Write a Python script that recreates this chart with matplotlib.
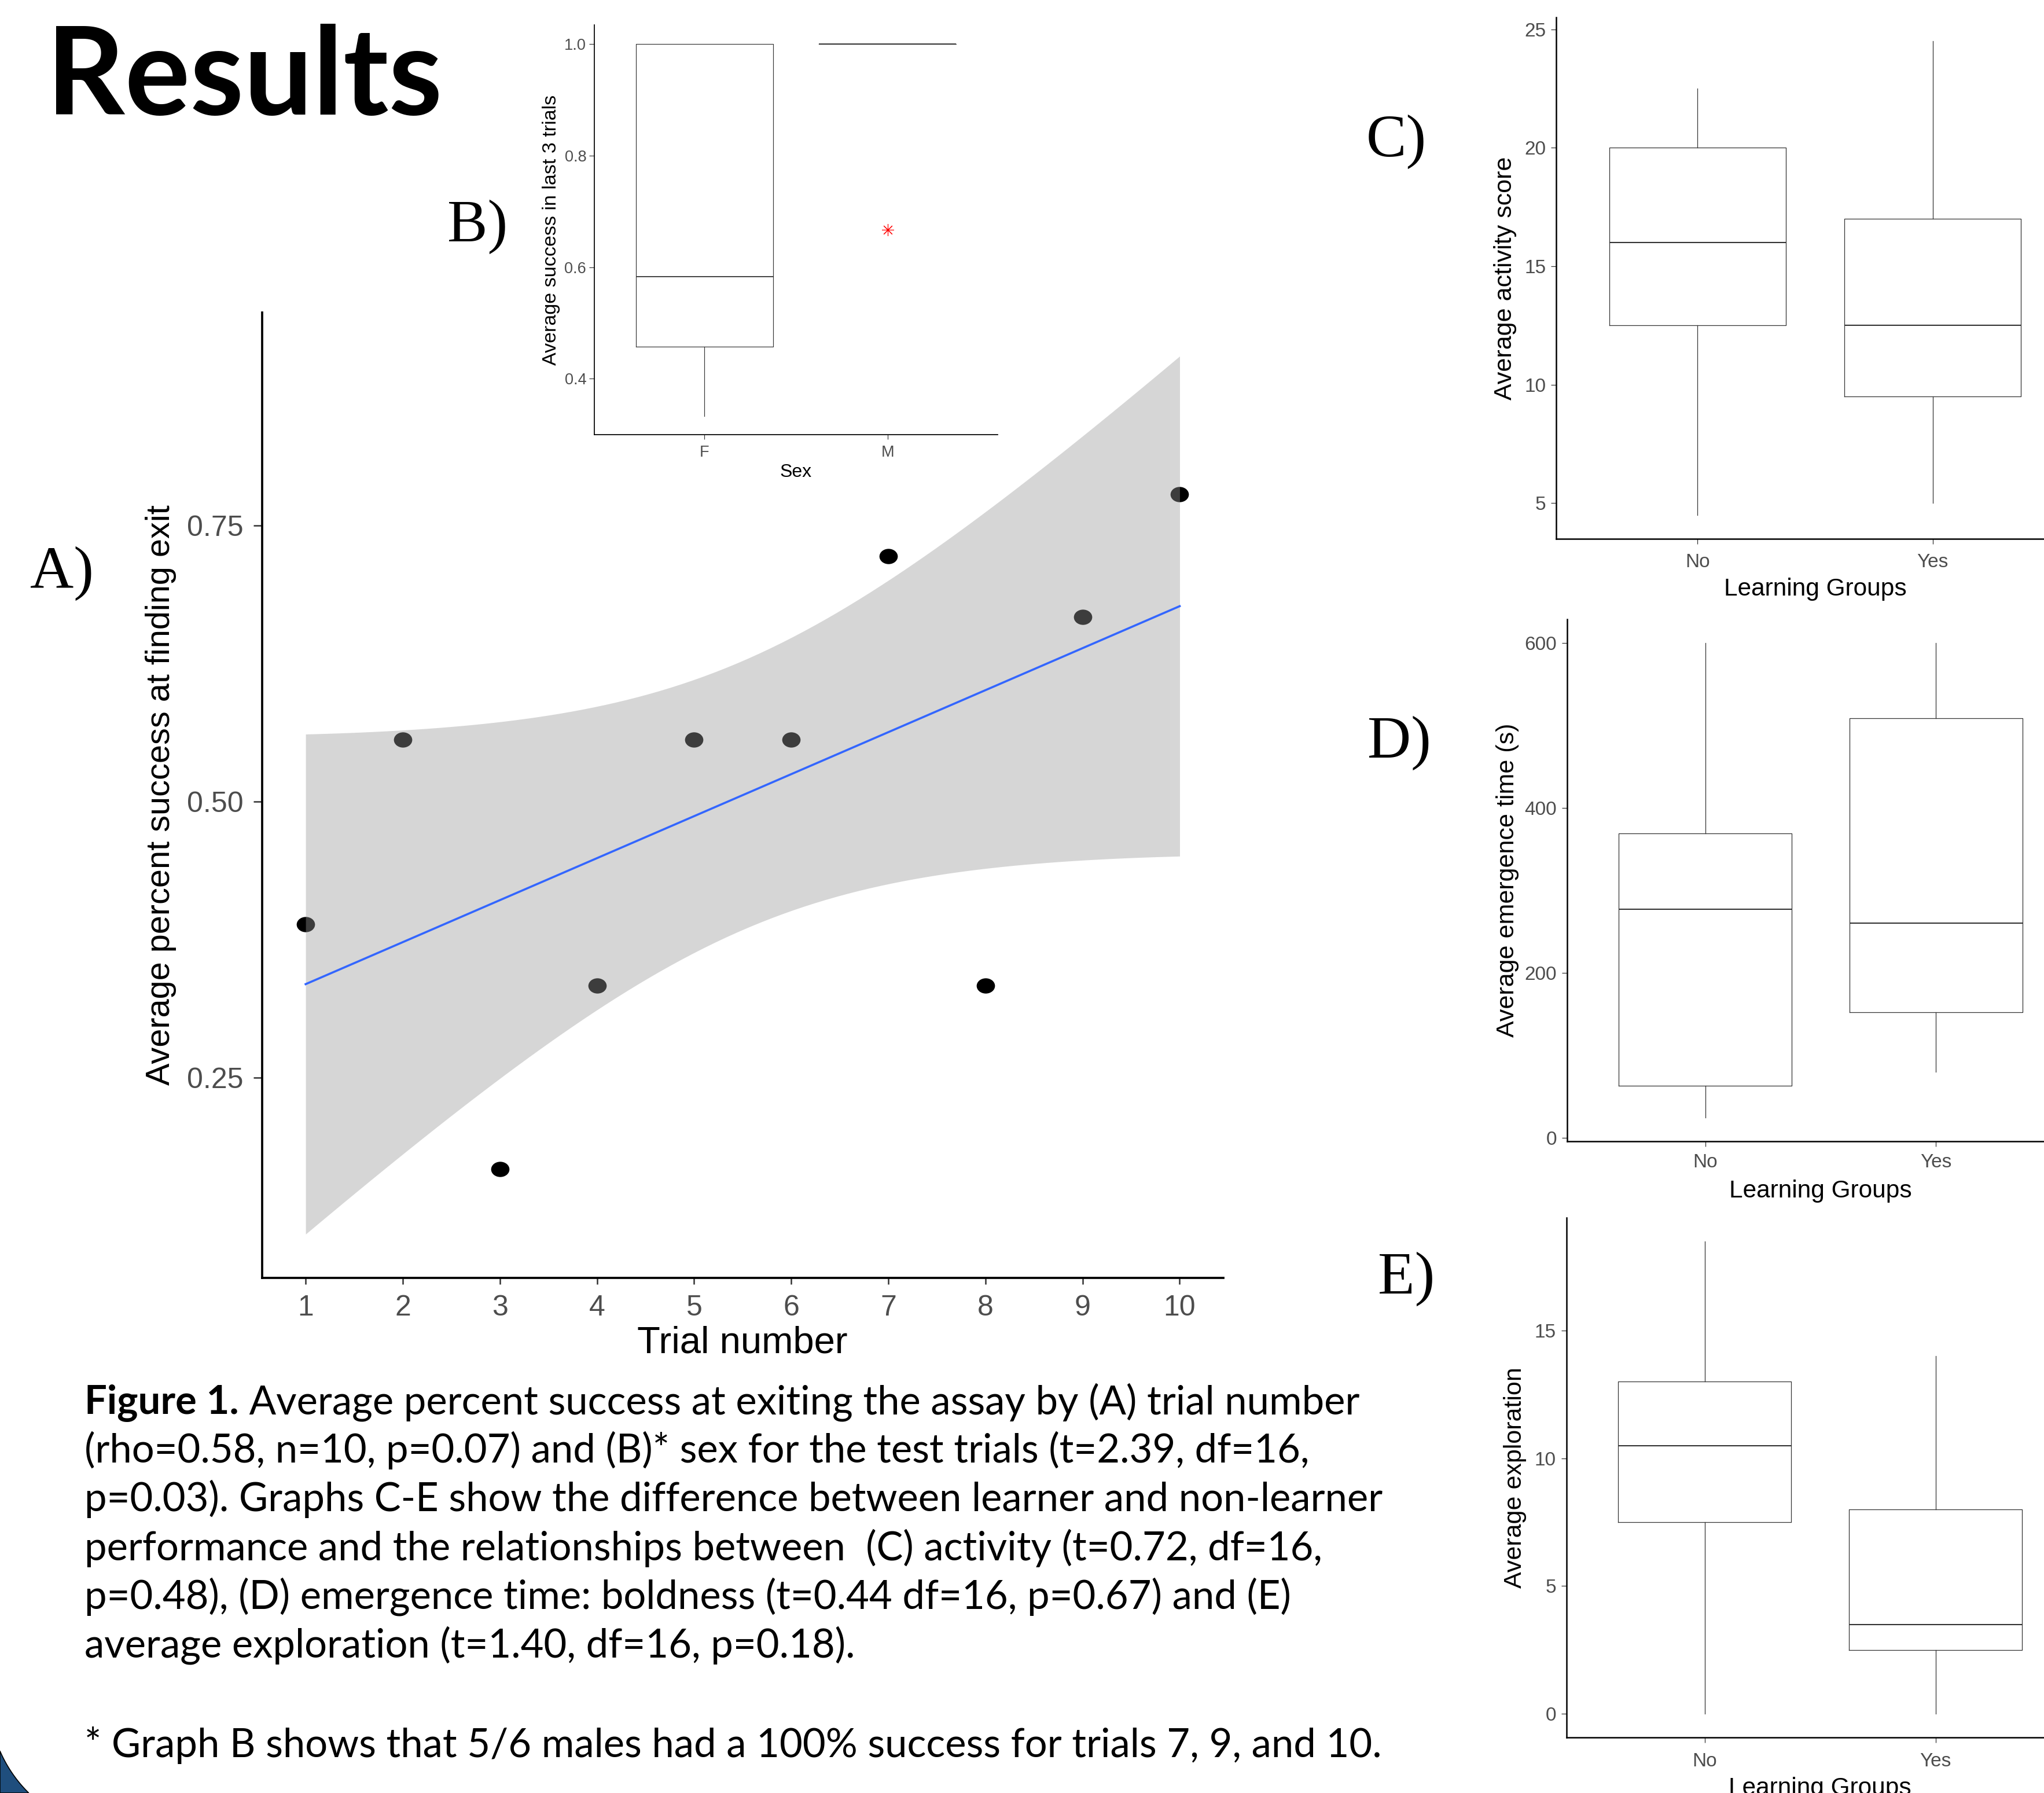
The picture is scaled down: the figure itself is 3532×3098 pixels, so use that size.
#!/usr/bin/env python3
"""
Results panel of a poster: success by trial number with a linear fit (A),
success by sex (B) and three learner / non-learner boxplots (C-E), plus the
figure caption underneath.

Output: out.png
"""

import numpy as np
import matplotlib.pyplot as plt
from matplotlib.patches import Polygon
from matplotlib.path import Path
from matplotlib.transforms import Affine2D

TRIAL   = np.array([1, 2, 3, 4, 5, 6, 7, 8, 9, 10])
SUCCESS = np.array([0.389, 0.556, 0.167, 0.333, 0.556, 0.556,
                    0.722, 0.333, 0.667, 0.778])
T_CRIT  = 2.306   # t(0.975, df = 8) for the lm confidence ribbon

SEX     = ["F", "M"]
SEX_LO  = [0.333, 1.0]
SEX_Q1  = [0.458, 1.0]
SEX_MED = [0.583, 1.0]
SEX_Q3  = [1.0, 1.0]
SEX_HI  = [1.0, 1.0]
SEX_OUT = [[], [0.667]]

GROUPS  = ["No", "Yes"]

ACT_LO  = [4.5, 5.0]
ACT_Q1  = [12.5, 9.5]
ACT_MED = [16.0, 12.5]
ACT_Q3  = [20.0, 17.0]
ACT_HI  = [22.5, 24.5]

EMG_LO  = [24.5, 80.0]
EMG_Q1  = [63.5, 152.0]
EMG_MED = [277.5, 260.5]
EMG_Q3  = [369.0, 509.0]
EMG_HI  = [600.0, 600.0]

EXP_LO  = [0.0, 0.0]
EXP_Q1  = [7.5, 2.5]
EXP_MED = [10.5, 3.5]
EXP_Q3  = [13.0, 8.0]
EXP_HI  = [18.5, 14.0]

CAPTION_HEAD = "Figure 1."
CAPTION = [
    " Average percent success at exiting the assay by (A) trial number",
    "(rho=0.58, n=10, p=0.07) and (B)* sex for the test trials (t=2.39, df=16,",
    "p=0.03). Graphs C-E show the difference between learner and non-learner",
    "performance and the relationships between  (C) activity (t=0.72, df=16,",
    "p=0.48), (D) emergence time: boldness (t=0.44 df=16, p=0.67) and (E)",
    "average exploration (t=1.40, df=16, p=0.18).",
]
FOOTNOTE = "* Graph B shows that 5/6 males had a 100% success for trials 7, 9, and 10."

# ---- canvas ----------------------------------------------------------------
W, H, DPI = 3532, 3098, 100

BOX_C    = "#333333"
TICK_TXT = "#4d4d4d"

plt.rcParams.update({
    "font.family": ["Liberation Sans", "DejaVu Sans"],
    "axes.labelcolor": "black",
})


def rect(box):
    l, t, r, b = box
    return [l / W, 1 - b / H, (r - l) / W, (b - t) / H]


def ax_x(box, px):
    l, t, r, b = box
    return (px - l) / (r - l)


def ax_y(box, py):
    l, t, r, b = box
    return (b - py) / (b - t)


def padded(lo, hi, f=0.05):
    d = (hi - lo) * f
    return lo - d, hi + d


def style(ax, *, spine_lw, xlen, ylen, xpad, ypad, fs, tick_w):
    ax.set_facecolor("none")
    for side in ("top", "right"):
        ax.spines[side].set_visible(False)
    for side in ("left", "bottom"):
        ax.spines[side].set_linewidth(spine_lw)
        ax.spines[side].set_color("black")
    ax.tick_params(axis="x", length=xlen, pad=xpad)
    ax.tick_params(axis="y", length=ylen, pad=ypad)
    ax.tick_params(width=tick_w, color=BOX_C, labelcolor=TICK_TXT,
                   labelsize=fs)


def draw_box(ax, cats, lo, q1, med, q3, hi, out=None, lw=0.9, med_lw=1.4):
    out = out or [[] for _ in cats]
    stats = [dict(whislo=a, q1=b, med=c, q3=d, whishi=e, fliers=f)
             for a, b, c, d, e, f in zip(lo, q1, med, q3, hi, out)]
    pos = np.arange(1, len(cats) + 1)
    ax.bxp(stats, positions=pos, widths=0.75, showcaps=False,
           manage_ticks=False,
           boxprops=dict(color=BOX_C, lw=lw),
           whiskerprops=dict(color=BOX_C, lw=lw),
           medianprops=dict(color=BOX_C, lw=med_lw),
           flierprops=dict(marker=(8, 2, 0), markersize=15,
                           markeredgecolor="red", markeredgewidth=0.8,
                           linestyle="none"))
    ax.set_xticks(pos, cats)
    ax.set_xlim(0.4, len(cats) + 0.6)
    vals = list(lo) + list(hi) + [v for f in out for v in f]
    ax.set_ylim(padded(min(vals), max(vals)))


fig = plt.figure(figsize=(W / DPI, H / DPI), dpi=DPI)
fig.patch.set_facecolor("white")

# ---- A) success by trial number ---------------------------------------------
BOX_A = (452.6, 539.5, 2114.0, 2208.3)
ax = fig.add_axes(rect(BOX_A))

slope, icpt = np.polyfit(TRIAL, SUCCESS, 1)
xs    = np.linspace(TRIAL.min(), TRIAL.max(), 80)
fit   = icpt + slope * xs
resid = SUCCESS - (icpt + slope * TRIAL)
s_res = np.sqrt((resid ** 2).sum() / (len(TRIAL) - 2))
sxx   = ((TRIAL - TRIAL.mean()) ** 2).sum()
se    = s_res * np.sqrt(1 / len(TRIAL) + (xs - TRIAL.mean()) ** 2 / sxx)
band_lo, band_hi = fit - T_CRIT * se, fit + T_CRIT * se

# points are slightly wider than tall on the poster
ell = Path.unit_circle().transformed(Affine2D().scale(1.2, 1.0))
ax.scatter(TRIAL, SUCCESS, marker=ell, s=520, color="black", lw=0, zorder=2)
ax.fill_between(xs, band_lo, band_hi, color="#999999", alpha=0.4, lw=0,
                zorder=3)
ax.plot(xs, fit, color="#3366FF", lw=2.6, zorder=4)

ax.set_xlim(padded(TRIAL.min(), TRIAL.max()))
ax.set_ylim(padded(min(band_lo.min(), SUCCESS.min()),
                   max(band_hi.max(), SUCCESS.max())))
ax.set_xticks(TRIAL)
ax.set_yticks([0.25, 0.50, 0.75], ["0.25", "0.50", "0.75"])
style(ax, spine_lw=2.7, xlen=8, ylen=10.8, xpad=13, ypad=12, fs=36,
      tick_w=1.8)
ax.set_xlabel("Trial number", fontsize=47)
ax.set_ylabel("Average percent success at finding exit", fontsize=41.5)
ax.xaxis.set_label_coords(0.5, ax_y(BOX_A, 2290))
ax.yaxis.set_label_coords(ax_x(BOX_A, 305), 0.5)

# ---- B) success by sex ------------------------------------------------------
BOX_B = (1027.4, 43.4, 1723.7, 751.3)
ax = fig.add_axes(rect(BOX_B))
draw_box(ax, SEX, SEX_LO, SEX_Q1, SEX_MED, SEX_Q3, SEX_HI, SEX_OUT,
         lw=0.85, med_lw=1.3)
ax.set_yticks([0.4, 0.6, 0.8, 1.0], ["0.4", "0.6", "0.8", "1.0"])
style(ax, spine_lw=1.25, xlen=5.5, ylen=6.2, xpad=7.5, ypad=4, fs=19.5,
      tick_w=0.85)
ax.set_xlabel("Sex", fontsize=23)
ax.set_ylabel("Average success in last 3 trials", fontsize=24.5)
ax.xaxis.set_label_coords(0.5, ax_y(BOX_B, 801))
ax.yaxis.set_label_coords(ax_x(BOX_B, 968), 0.5)

# ---- C-E) learner vs non-learner boxplots -------------------------------------
PANELS = [
    ((2689.0, 30.1, 3583.9, 930.8), "Average activity score",
     (ACT_LO, ACT_Q1, ACT_MED, ACT_Q3, ACT_HI), [5, 10, 15, 20, 25],
     2621, 998, 11),
    ((2707.8, 1070.1, 3584.4, 1972.1), "Average emergence time (s)",
     (EMG_LO, EMG_Q1, EMG_MED, EMG_Q3, EMG_HI), [0, 200, 400, 600],
     2625, 2037.7, 8.6),
    ((2706.6, 2104.0, 3584.0, 3001.9), "Average exploration",
     (EXP_LO, EXP_Q1, EXP_MED, EXP_Q3, EXP_HI), [0, 5, 10, 15],
     2637.7, 3070, 12),
]
for box, ylab, st, yt, ylab_x, xlab_y, xpad in PANELS:
    ax = fig.add_axes(rect(box))
    draw_box(ax, GROUPS, *st, lw=0.9, med_lw=1.5)
    ax.set_yticks(yt)
    style(ax, spine_lw=1.8, xlen=6.8, ylen=6.8, xpad=xpad, ypad=6, fs=24,
          tick_w=0.9)
    ax.set_xlabel("Learning Groups", fontsize=30.5)
    ax.set_ylabel(ylab, fontsize=31)
    ax.xaxis.set_label_coords(0.5, ax_y(box, xlab_y))
    ax.yaxis.set_label_coords(ax_x(box, ylab_x), 0.5)

# ---- headings, panel letters, caption ---------------------------------------
fig.text(80 / W, 1 - 198 / H, "Results", family=["Lato", "DejaVu Sans"],
         weight="bold", fontsize=152, va="baseline")

LETTERS = [("A)", 52, 1016), ("B)", 773, 417), ("C)", 2361, 270),
           ("D)", 2363, 1309), ("E)", 2381, 2235)]
for lab, x, y in LETTERS:
    fig.text(x / W, 1 - y / H, lab, family=["Liberation Serif"],
             fontsize=75, va="baseline")

CAP_FONT = dict(family=["Lato", "DejaVu Sans"], fontsize=49.5, va="baseline")
CAP_X, CAP_Y0, CAP_DY = 146, 2443, 84.2
head = fig.text(CAP_X / W, 1 - CAP_Y0 / H, CAPTION_HEAD, weight="bold",
                **CAP_FONT)
renderer = fig.canvas.get_renderer()
head_x1 = head.get_window_extent(renderer).x1
for i, line in enumerate(CAPTION):
    x = head_x1 / W if i == 0 else CAP_X / W
    fig.text(x, 1 - (CAP_Y0 + i * CAP_DY) / H, line, **CAP_FONT)
fig.text(CAP_X / W, 1 - 3036 / H, FOOTNOTE, **CAP_FONT)

# ---- decorative blue arc in the bottom-left corner ---------------------------
cx, cy, r = 211.0, 2934.0, 230.0
t0 = np.arctan2(np.sqrt(r ** 2 - cx ** 2), -cx)
t1 = np.arctan2(H - cy, -np.sqrt(r ** 2 - (H - cy) ** 2))
ts = np.linspace(t0, t1, 40)
arc = np.column_stack([cx + r * np.cos(ts), cy + r * np.sin(ts)])
corner = np.vstack([arc, [[0, H]]])
fig.add_artist(Polygon(np.column_stack([corner[:, 0] / W, 1 - corner[:, 1] / H]),
                       closed=True, transform=fig.transFigure,
                       facecolor="#1f4e7d", edgecolor="black", lw=1.2))

fig.savefig("out.png", dpi=DPI, facecolor="white")
